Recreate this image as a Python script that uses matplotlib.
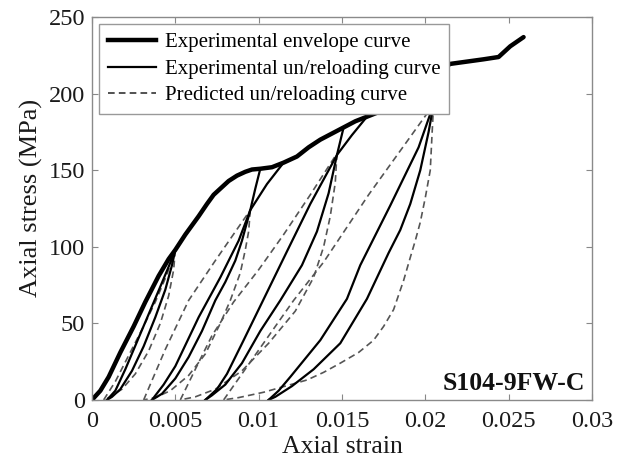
import matplotlib
matplotlib.use("Agg")
import matplotlib.pyplot as plt

plt.rcParams['font.family'] = ['Liberation Serif', 'DejaVu Serif']

# Envelope curve (strain, stress in MPa)
env_strain = [0, 0.0005, 0.0010, 0.0017, 0.0025, 0.0032, 0.0040, 0.0046, 0.0050,
              0.0056, 0.0064, 0.0069, 0.0073, 0.0078, 0.0082, 0.0087, 0.0092, 0.0096,
              0.0101, 0.0108, 0.0115, 0.0123, 0.0130, 0.0137, 0.0144, 0.0151, 0.0158,
              0.0165, 0.0172, 0.0180, 0.0190, 0.0200, 0.0208, 0.0215, 0.0225, 0.0235,
              0.0244, 0.0251, 0.0259]
env_stress = [0, 6, 15, 31, 48, 64, 81, 92, 98,
              108, 120, 128, 134, 139, 143, 146.5, 149, 150.5,
              151, 152, 155, 159, 165, 170, 174, 178, 182,
              185, 188, 193, 201, 209, 215, 219.5, 221, 222.5,
              224, 231, 237]

# Experimental unloading branches
exp_unload = [
    ([0.0050, 0.0048, 0.0044, 0.0038, 0.0031, 0.0024, 0.0017, 0.0012, 0.0009],
     [98, 88, 72, 54, 35, 19, 7, 2, 0]),
    ([0.0101, 0.0098, 0.0095, 0.0090, 0.0086, 0.0080, 0.0074, 0.0066, 0.0058, 0.0050, 0.0042, 0.0036],
     [151, 138, 124, 104, 91, 77, 65, 45, 28, 14, 4, 0]),
    ([0.0151, 0.0149, 0.0147, 0.0142, 0.0135, 0.0126, 0.0113, 0.0101, 0.0090, 0.0080, 0.0072, 0.0068],
     [178, 169, 160, 135, 110, 88, 65, 45, 24, 10, 3, 0]),
    ([0.0208, 0.0206, 0.0205, 0.0202, 0.0197, 0.0191, 0.0185, 0.0178, 0.0165, 0.0149, 0.0133, 0.0120,
      0.0110, 0.0106],
     [215, 203, 193, 175, 150, 128, 111, 96, 66, 37, 20, 9, 2, 0]),
]

# Experimental reloading branches
exp_reload = [
    ([0.0009, 0.0014, 0.0020, 0.0027, 0.0034, 0.0041, 0.0046, 0.0050],
     [0, 6, 20, 38, 56, 74, 87, 98]),
    ([0.0036, 0.0043, 0.0050, 0.0064, 0.0077, 0.0088, 0.0095, 0.0105, 0.0115],
     [0, 10, 22, 54, 80, 104, 124, 141, 155]),
    ([0.0068, 0.0075, 0.0081, 0.0091, 0.0104, 0.0117, 0.0131, 0.0147, 0.0156, 0.0165],
     [0, 7, 17, 39, 68, 97, 128, 160, 173, 185]),
    ([0.0106, 0.0112, 0.0119, 0.0137, 0.0153, 0.0161, 0.0179, 0.0196, 0.0205, 0.0208],
     [0, 6, 15, 39, 66, 88, 127, 165, 193, 213]),
]

# Predicted unloading / reloading branches
pred_unload = [
    ([0.0050, 0.0049, 0.0046, 0.0041, 0.0034, 0.0026, 0.0018, 0.0011, 0.0007],
     [98, 85, 68, 50, 32, 17, 7, 2, 0]),
    ([0.0095, 0.0094, 0.0092, 0.0089, 0.0083, 0.0077, 0.0068, 0.0058, 0.0047, 0.0038, 0.0031],
     [124, 110, 98, 83, 65, 50, 30, 16, 6, 1.5, 0]),
    ([0.0147, 0.0146, 0.0143, 0.0139, 0.0133, 0.0122, 0.0106, 0.0090, 0.0074, 0.0062, 0.0053],
     [161, 142, 120, 100, 80, 58, 37, 19, 7, 2, 0]),
    ([0.0205, 0.0204, 0.0203, 0.0200, 0.0197, 0.0194, 0.0191, 0.0187, 0.0181, 0.0175, 0.0169,
      0.0160, 0.0149, 0.0139, 0.0129, 0.0116, 0.0103, 0.0088, 0.0079],
     [193, 172, 150, 132, 116, 104, 93, 78, 59, 48, 39, 31, 24, 18, 13, 9, 5, 1.5, 0]),
]
pred_reload = [
    ([0.0007, 0.0014, 0.0022, 0.0030, 0.0038, 0.0045, 0.0050],
     [0, 12, 29, 46, 64, 82, 98]),
    ([0.0031, 0.0044, 0.0058, 0.0074, 0.0095],
     [0, 33, 65, 91, 124]),
    ([0.0053, 0.0062, 0.0072, 0.0085, 0.0100, 0.0115, 0.0131, 0.0147],
     [0, 20, 42, 64, 85, 108, 134, 161]),
    ([0.0079, 0.0121, 0.0139, 0.0166, 0.0205],
     [0, 65, 90, 134, 193]),
]

fig = plt.figure(figsize=(6.28, 4.65), dpi=100)
ax = fig.add_axes([0.1465, 0.14, 0.796, 0.823])

dash_kw = dict(color='#555555', linewidth=1.2, linestyle=(0, (4, 2.5)))
for x, y in pred_unload:
    ax.plot(x, y, **dash_kw)
for x, y in pred_reload:
    ax.plot(x, y, **dash_kw)
for x, y in exp_unload:
    ax.plot(x, y, color='black', linewidth=1.6)
for x, y in exp_reload:
    ax.plot(x, y, color='black', linewidth=1.6)
ax.plot(env_strain, env_stress, color='black', linewidth=3.2, solid_capstyle='round')

# legend handles
h_env, = ax.plot([], [], color='black', linewidth=3.2)
h_exp, = ax.plot([], [], color='black', linewidth=1.6)
h_pre, = ax.plot([], [], color='#333333', linewidth=1.2, linestyle=(0, (4, 2.5)))
leg = ax.legend([h_env, h_exp, h_pre],
                ['Experimental envelope curve', 'Experimental un/reloading curve',
                 'Predicted un/reloading curve'],
                loc='upper left', fontsize=15, fancybox=False, framealpha=1,
                edgecolor='#999999', handlelength=2.3, handletextpad=0.45,
                labelspacing=0.33, borderaxespad=0.35, borderpad=0.4)
leg.get_frame().set_linewidth(1.0)

ax.text(0.0296, 3, 'S104-9FW-C', fontsize=18.5, fontweight='bold',
        ha='right', va='bottom', color='#111111')

ax.set_xlim(0, 0.03)
ax.set_ylim(0, 250)
xticks = [0, 0.005, 0.01, 0.015, 0.02, 0.025, 0.03]
xtick_labels = ['0', '0.005', '0.01', '0.015', '0.02', '0.025', '0.03']
yticks = [0, 50, 100, 150, 200, 250]
ax.set_xticks(xticks)
ax.set_xticklabels(xtick_labels)
ax.set_yticks(yticks)
ax.tick_params(direction='in', length=4, width=0.8, color='#888888',
               labelsize=17.5, labelcolor='#1a1a1a', top=True, right=True)
ax.tick_params(axis='x', pad=8)
ax.tick_params(axis='y', pad=5)
for s in ax.spines.values():
    s.set_color('#8a8a8a')
    s.set_linewidth(1.0)

ax.set_xlabel('Axial strain', fontsize=18.5, color='#1a1a1a', labelpad=3)
ax.set_ylabel('Axial stress (MPa)', fontsize=19, color='#1a1a1a', labelpad=4)
ax.yaxis.label.set_y(0.527)

fig.savefig('out.png', dpi=100)
